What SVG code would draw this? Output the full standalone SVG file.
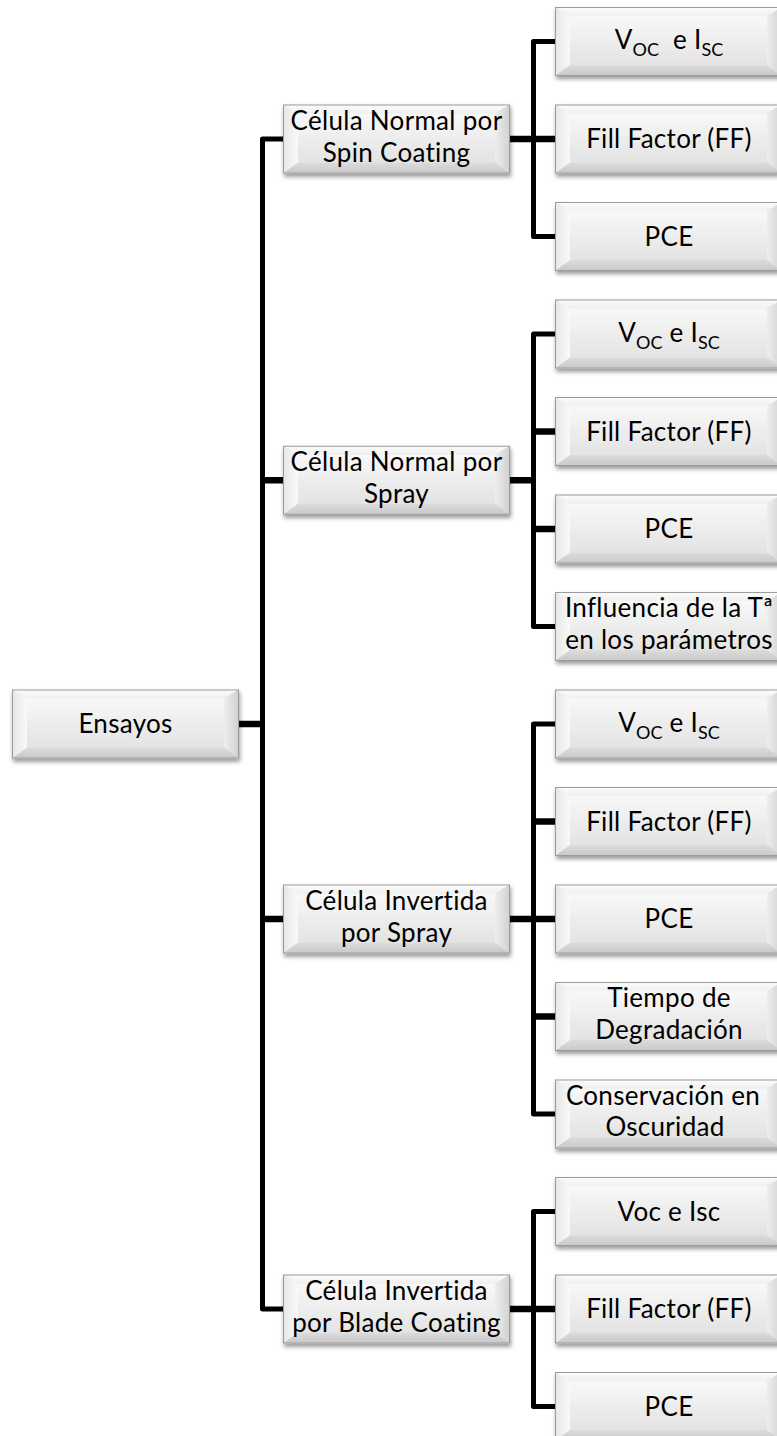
<svg xmlns="http://www.w3.org/2000/svg" xmlns:xlink="http://www.w3.org/1999/xlink" width="777" height="1436" viewBox="0 0 777 1436">
  <style>
    .lbl { font-family: Lato, "Open Sans", "Liberation Sans", sans-serif; font-size: 26px; letter-spacing: 0.3px; font-variant-ligatures: none; fill: #000; text-anchor: middle; }
    .sub { font-size: 18px; letter-spacing: 0; }
    .wire { fill: none; stroke: #000; stroke-width: 5; stroke-linejoin: round; }
    .stub { fill: none; stroke: #000; stroke-width: 6.5; }
  </style>
  <defs>
    <linearGradient id="gFace" x1="0" y1="0" x2="0" y2="1">
      <stop offset="0" stop-color="#f8f8f8"/>
      <stop offset="1" stop-color="#e3e3e3"/>
    </linearGradient>
    <linearGradient id="gTop" x1="0" y1="0" x2="0" y2="1">
      <stop offset="0" stop-color="#fcfcfc"/>
      <stop offset="1" stop-color="#f0f0f0"/>
    </linearGradient>
    <linearGradient id="gLeft" x1="0" y1="0" x2="1" y2="0">
      <stop offset="0" stop-color="#e6e6e6"/>
      <stop offset="1" stop-color="#f9f9f9"/>
    </linearGradient>
    <linearGradient id="gRight" x1="0" y1="0" x2="1" y2="0">
      <stop offset="0" stop-color="#eeeeee"/>
      <stop offset="1" stop-color="#d0d0d0"/>
    </linearGradient>
    <linearGradient id="gBot" x1="0" y1="0" x2="0" y2="1">
      <stop offset="0" stop-color="#dcdcdc"/>
      <stop offset="1" stop-color="#c8c8c8"/>
    </linearGradient>
    <filter id="shadow" x="-10%" y="-20%" width="120%" height="150%">
      <feDropShadow dx="1" dy="3" stdDeviation="2.2" flood-color="#000" flood-opacity="0.4"/>
    </filter>
    <!-- bevelled button shape shared by every node -->
    <g id="bevel">
      <rect x="0" y="0" width="227" height="69" fill="#e4e4e4"/>
      <polygon points="0,0 227,0 212,9 15,9" fill="url(#gTop)"/>
      <polygon points="0,0 15,9 15,58 0,69" fill="url(#gLeft)"/>
      <polygon points="227,0 212,9 212,58 227,69" fill="url(#gRight)"/>
      <polygon points="0,69 15,58 212,58 227,69" fill="url(#gBot)"/>
      <rect x="15" y="9" width="197" height="49" fill="url(#gFace)"/>
      <rect x="0.5" y="0.5" width="226" height="68" fill="none" stroke="#9c9c9c" stroke-width="1"/>
    </g>
  </defs>

  <rect width="777" height="1436" fill="#fff"/>

  <!-- connectors -->
  <g id="connectors">
    <path class="wire" d="M283,139 H262.5 V1309 H283"/>
    <path class="stub" d="M262.5,480.25 H283 M262.5,919 H283 M238,724 H262.5"/>

    <path class="wire" d="M555,41.5 H533.5 V236.5 H555"/>
    <path class="stub" d="M510,139 H555"/>

    <path class="wire" d="M555,334 H533.5 V626.5 H555"/>
    <path class="stub" d="M533.5,431.5 H555 M533.5,529 H555 M510,480.25 H533.5"/>

    <path class="wire" d="M555,724 H533.5 V1114 H555"/>
    <path class="stub" d="M533.5,821.5 H555 M510,919 H555 M533.5,1016.5 H555"/>

    <path class="wire" d="M555,1211.5 H533.5 V1406.5 H555"/>
    <path class="stub" d="M510,1309 H555"/>
  </g>

  <!-- root -->
  <g id="ensayos">
    <use xlink:href="#bevel" x="12" y="689.5" filter="url(#shadow)"/>
    <text class="lbl" x="125.5" y="733">Ensayos</text>
  </g>

  <!-- second level -->
  <g id="normal-spin">
    <use xlink:href="#bevel" x="283" y="104.5" filter="url(#shadow)"/>
    <text class="lbl" x="396.5" y="130">Célula Normal por<tspan x="396.5" dy="31.5">Spin Coating</tspan></text>
  </g>
  <g id="normal-spray">
    <use xlink:href="#bevel" x="283" y="445.75" filter="url(#shadow)"/>
    <text class="lbl" x="396.5" y="471">Célula Normal por<tspan x="396.5" dy="31.5">Spray</tspan></text>
  </g>
  <g id="invertida-spray">
    <use xlink:href="#bevel" x="283" y="884.5" filter="url(#shadow)"/>
    <text class="lbl" x="396.5" y="910">Célula Invertida<tspan x="396.5" dy="31.5">por Spray</tspan></text>
  </g>
  <g id="invertida-blade">
    <use xlink:href="#bevel" x="283" y="1274.5" filter="url(#shadow)"/>
    <text class="lbl" x="396.5" y="1300">Célula Invertida<tspan x="396.5" dy="31.5">por Blade Coating</tspan></text>
  </g>

  <!-- leaves: spin coating -->
  <g id="spin-voc">
    <use xlink:href="#bevel" x="555" y="7" filter="url(#shadow)"/>
    <text class="lbl" x="669" y="49">V<tspan class="sub" dy="7">OC</tspan><tspan dy="-7">&#160; e I</tspan><tspan class="sub" dy="7">SC</tspan></text>
  </g>
  <g id="spin-ff">
    <use xlink:href="#bevel" x="555" y="104.5" filter="url(#shadow)"/>
    <text class="lbl" x="669" y="148">Fill Factor (FF)</text>
  </g>
  <g id="spin-pce">
    <use xlink:href="#bevel" x="555" y="202" filter="url(#shadow)"/>
    <text class="lbl" x="669" y="245.5">PCE</text>
  </g>

  <!-- leaves: normal spray -->
  <g id="spray-voc">
    <use xlink:href="#bevel" x="555" y="299.5" filter="url(#shadow)"/>
    <text class="lbl" x="669" y="341.5">V<tspan class="sub" dy="7">OC</tspan><tspan dy="-7"> e I</tspan><tspan class="sub" dy="7">SC</tspan></text>
  </g>
  <g id="spray-ff">
    <use xlink:href="#bevel" x="555" y="397" filter="url(#shadow)"/>
    <text class="lbl" x="669" y="440.5">Fill Factor (FF)</text>
  </g>
  <g id="spray-pce">
    <use xlink:href="#bevel" x="555" y="494.5" filter="url(#shadow)"/>
    <text class="lbl" x="669" y="538">PCE</text>
  </g>
  <g id="spray-temp">
    <use xlink:href="#bevel" x="555" y="592" filter="url(#shadow)"/>
    <text class="lbl" x="669" y="617">Influencia de la Tª<tspan x="669" dy="31.5">en los parámetros</tspan></text>
  </g>

  <!-- leaves: inverted spray -->
  <g id="inv-voc">
    <use xlink:href="#bevel" x="555" y="689.5" filter="url(#shadow)"/>
    <text class="lbl" x="669" y="731.5">V<tspan class="sub" dy="7">OC</tspan><tspan dy="-7"> e I</tspan><tspan class="sub" dy="7">SC</tspan></text>
  </g>
  <g id="inv-ff">
    <use xlink:href="#bevel" x="555" y="787" filter="url(#shadow)"/>
    <text class="lbl" x="669" y="830.5">Fill Factor (FF)</text>
  </g>
  <g id="inv-pce">
    <use xlink:href="#bevel" x="555" y="884.5" filter="url(#shadow)"/>
    <text class="lbl" x="669" y="928">PCE</text>
  </g>
  <g id="inv-degradacion">
    <use xlink:href="#bevel" x="555" y="982" filter="url(#shadow)"/>
    <text class="lbl" x="669" y="1007">Tiempo de<tspan x="669" dy="31.5">Degradación</tspan></text>
  </g>
  <g id="inv-oscuridad">
    <use xlink:href="#bevel" x="555" y="1079.5" filter="url(#shadow)"/>
    <text class="lbl" x="663" y="1104.5">Conservación en<tspan x="665" dy="31.5">Oscuridad</tspan></text>
  </g>

  <!-- leaves: blade coating -->
  <g id="blade-voc">
    <use xlink:href="#bevel" x="555" y="1177" filter="url(#shadow)"/>
    <text class="lbl" x="669" y="1220.5">Voc e Isc</text>
  </g>
  <g id="blade-ff">
    <use xlink:href="#bevel" x="555" y="1274.5" filter="url(#shadow)"/>
    <text class="lbl" x="669" y="1318">Fill Factor (FF)</text>
  </g>
  <g id="blade-pce">
    <use xlink:href="#bevel" x="555" y="1372" filter="url(#shadow)"/>
    <text class="lbl" x="669" y="1415.5">PCE</text>
  </g>
</svg>
